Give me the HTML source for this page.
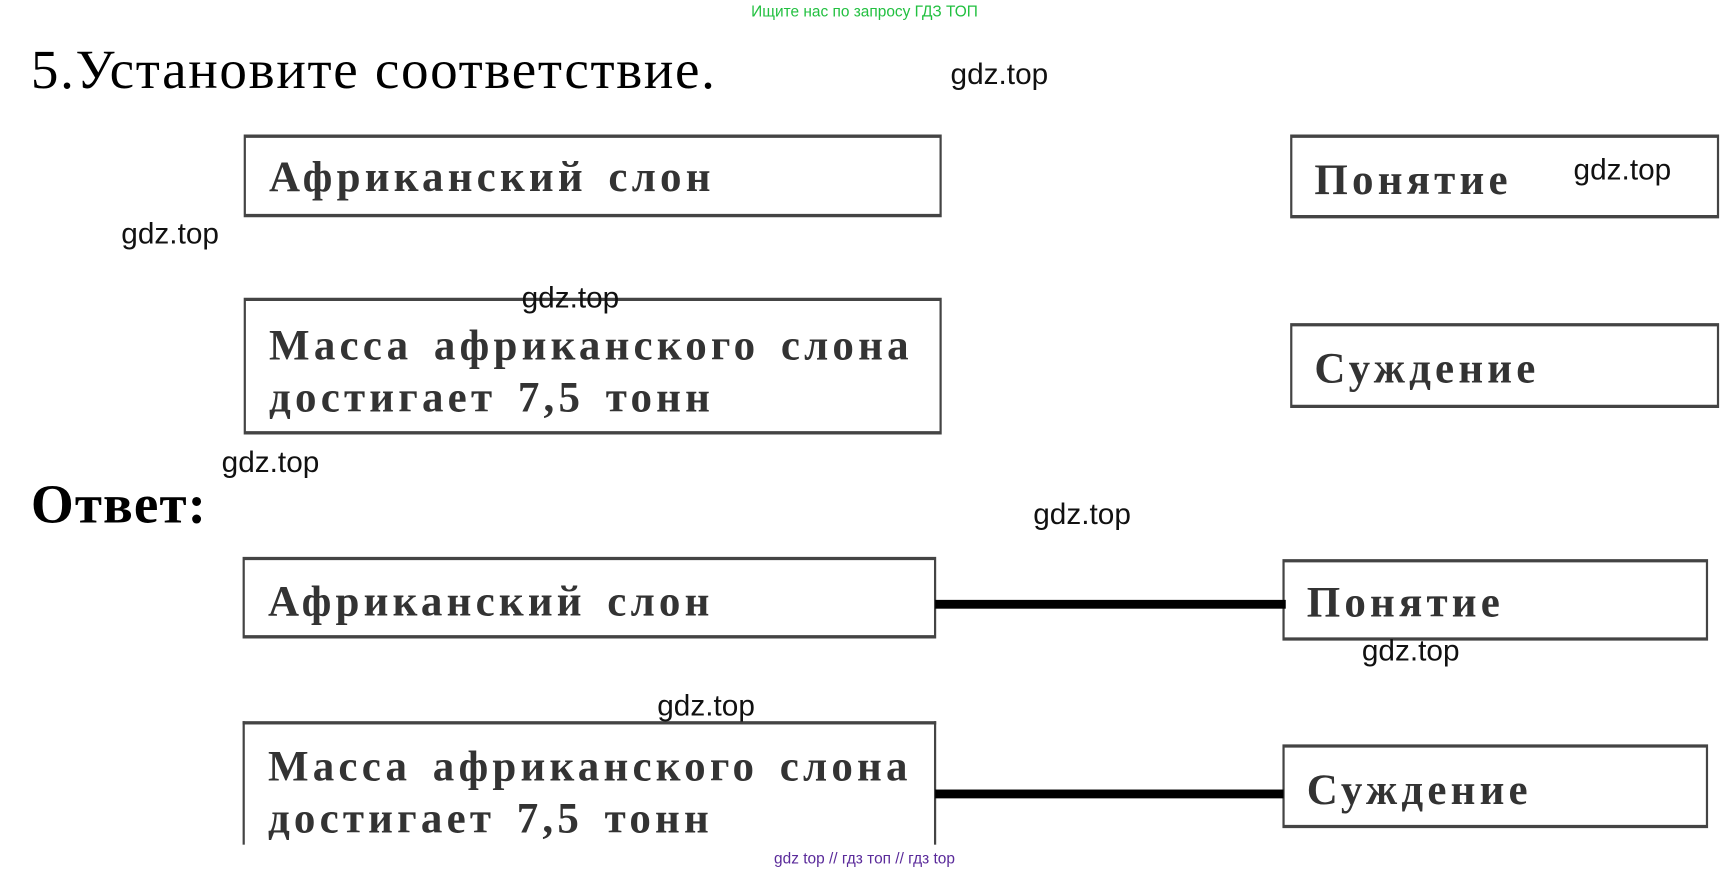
<!DOCTYPE html>
<html><head><meta charset="utf-8"><style>
html,body{margin:0;padding:0;background:#fff;overflow:hidden}
body{width:1729px;height:873px;position:relative}
#w{position:absolute;left:0;top:0;width:1568px;height:792px;transform:scale(1.1027);transform-origin:0 0}
.a{position:absolute;white-space:nowrap}
.g{font-family:"Liberation Sans",sans-serif;font-size:27px;color:#111}
.box{position:absolute;border:2px solid #444;border-top:3px solid #444;border-bottom:3px solid #444;box-sizing:border-box;background:transparent}
.t{position:absolute;font-family:"Liberation Serif",serif;font-weight:bold;font-size:39px;color:#333;letter-spacing:3.8px;word-spacing:6px;line-height:47px}
.ln{position:absolute;height:8px;background:#000}
</style></head><body><div id="w">
<div class="a" style="left:0;width:1568px;text-align:center;top:2px;font-family:'Liberation Sans',sans-serif;font-size:14px;color:#22c040">Ищите нас по запросу ГДЗ ТОП</div>
<div class="a" style="left:28px;top:34px;font-family:'Liberation Serif',serif;font-size:50px;letter-spacing:1.5px;color:#000">5.Установите соответствие.</div>
<div class="box" style="left:221px;top:122px;width:633px;height:75px"></div>
<div class="t" style="left:244px;top:137px">Африканский слон</div>
<div class="box" style="left:221px;top:270px;width:633px;height:124px"></div>
<div class="t" style="left:244px;top:290px">Масса африканского слона<br>достигает 7,5 тонн</div>
<div class="box" style="left:1170px;top:122px;width:389px;height:76px"></div>
<div class="t" style="left:1192px;top:140px">Понятие</div>
<div class="box" style="left:1170px;top:293px;width:389px;height:77px"></div>
<div class="t" style="left:1192px;top:311px">Суждение</div>
<div class="a" style="left:28px;top:428px;font-family:'Liberation Serif',serif;font-weight:bold;font-size:50px;letter-spacing:1px;color:#000">Ответ:</div>
<div class="box" style="left:220px;top:505px;width:629px;height:74px"></div>
<div class="t" style="left:243px;top:522px">Африканский слон</div>
<div class="box" style="left:220px;top:654px;width:629px;height:140px;border-bottom:none"></div>
<div class="t" style="left:243px;top:672px">Масса африканского слона<br>достигает 7,5 тонн</div>
<div class="box" style="left:1163px;top:507px;width:386px;height:74px"></div>
<div class="t" style="left:1185px;top:523px">Понятие</div>
<div class="box" style="left:1163px;top:675px;width:386px;height:76px"></div>
<div class="t" style="left:1185px;top:693px">Суждение</div>
<div class="ln" style="left:848px;top:544px;width:318px"></div>
<div class="ln" style="left:848px;top:716px;width:316px"></div>
<div class="a" style="left:0;top:766px;width:1568px;height:30px;background:#fff"></div>
<div class="a" style="left:0;width:1568px;text-align:center;top:770px;font-family:'Liberation Sans',sans-serif;font-size:14px;color:#5a2a9a">gdz top // гдз топ // гдз top</div>
<div class="a g" style="left:862px;top:52px">gdz.top</div>
<div class="a g" style="left:1427px;top:139px">gdz.top</div>
<div class="a g" style="left:110px;top:197px">gdz.top</div>
<div class="a g" style="left:473px;top:255px">gdz.top</div>
<div class="a g" style="left:201px;top:404px">gdz.top</div>
<div class="a g" style="left:937px;top:451px">gdz.top</div>
<div class="a g" style="left:1235px;top:575px">gdz.top</div>
<div class="a g" style="left:596px;top:625px">gdz.top</div>
</div></body></html>
